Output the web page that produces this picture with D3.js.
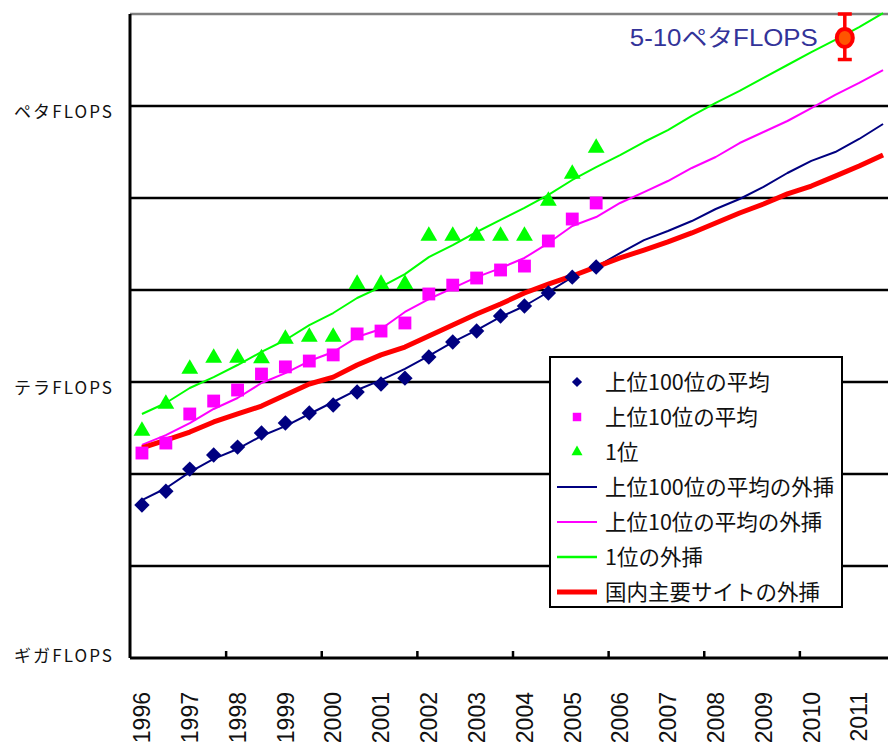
<!DOCTYPE html>
<html>
<head>
<meta charset="utf-8">
<script src="https://cdn.jsdelivr.net/npm/d3@7"></script>
<style>
  body { margin: 0; background: #fff; }
  svg { display: block; }
</style>
</head>
<body>
<div id="chart"></div>
<script>
// half-yearly TOP500 lists (GFLOPS)
const pointYears = [1996, 1996.5, 1997, 1997.5, 1998, 1998.5, 1999, 1999.5, 2000, 2000.5,
  2001, 2001.5, 2002, 2002.5, 2003, 2003.5, 2004, 2004.5, 2005, 2005.5]
const top100Avg = [46, 65, 113, 161, 196, 279, 358, 460, 562, 778,
  951, 1100, 1870, 2720, 3580, 5210, 6700, 9270, 13800, 17800]
const top10Avg = [169, 217, 449, 621, 818, 1220, 1460, 1690, 1970, 3330,
  3580, 4380, 9050, 11300, 13500, 16500, 18200, 34100, 59100, 88300]
const firstPlace = [301, 591, 1420, 1870, 1870, 1850, 3010, 3160, 3160, 11900,
  11900, 11900, 39600, 39600, 39600, 39600, 39600, 95100, 187000, 359000]

// extrapolation lines
const lineYears = [1996, 1996.5, 1997, 1997.5, 1998, 1998.5, 1999, 1999.5, 2000, 2000.5,
  2001, 2001.5, 2002, 2002.5, 2003, 2003.5, 2004, 2004.5, 2005, 2005.5,
  2006, 2006.5, 2007, 2007.5, 2008, 2008.5, 2009, 2009.5, 2010, 2010.5, 2011, 2011.5]
const top100Fit = [52, 70, 105, 146, 187, 259, 332, 449, 606, 819,
  1050, 1390, 1920, 2720, 3670, 5090, 6700, 9510, 13800, 17800,
  25200, 34900, 43800, 56200, 75900, 97500, 132000, 187000, 253000, 316000, 438000, 637000]
const top10Fit = [207, 265, 358, 509, 670, 975, 1250, 1690, 2120, 3080,
  3770, 5770, 7980, 10500, 13800, 17300, 22300, 32400, 49600, 62100,
  88300, 116000, 153000, 212000, 279000, 396000, 522000, 687000, 951000, 1320000, 1780000, 2460000]
const firstFit = [449, 591, 861, 1130, 1530, 2120, 2860, 4160, 5620, 8190,
  10800, 14900, 22800, 30800, 42700, 57700, 77900, 108000, 157000, 217000,
  293000, 406000, 548000, 779000, 1080000, 1460000, 2020000, 2790000, 3860000, 5220000, 7220000, 10200000]
const domesticFit = [192, 234, 286, 368, 449, 548, 722, 951, 1130, 1530,
  1970, 2400, 3160, 4160, 5480, 7050, 9270, 11600, 14200, 17800,
  22300, 27200, 33300, 41700, 53500, 68700, 86000, 111000, 135000, 173000, 223000, 293000]

// target
const targetYear = 2010.7
const targetValue = 5.5e6
const targetRange = [3.2e6, 1e7]
const targetLabel = '5-10ペタFLOPS'

const yearLabels = [1996, 1997, 1998, 1999, 2000, 2001, 2002, 2003,
  2004, 2005, 2006, 2007, 2008, 2009, 2010, 2011]
const tickYears = [1997.75, 1999.75, 2001.75, 2003.75, 2005.75, 2007.75, 2009.75]
const yTickValues = [1, 1e3, 1e6]
const yTickLabels = ['ギガFLOPS', 'テラFLOPS', 'ペタFLOPS']
const gridValues = [10, 100, 1e3, 1e4, 1e5, 1e6]

const width = 888
const height = 747
const margin = { top: 14, right: -7, bottom: 89, left: 130 }

const x = d3.scaleLinear()
  .domain([1995.75, 2011.75])
  .range([margin.left, width - margin.right])

const y = d3.scaleLog()
  .domain([1, 1e7])
  .range([height - margin.bottom, margin.top])

const svg = d3.select('#chart')
  .append('svg')
  .attr('width', width)
  .attr('height', height)
  .attr('viewBox', [0, 0, width, height].join(' '))

// grid
svg.append('g')
  .selectAll('line')
  .data(gridValues)
  .join('line')
  .attr('x1', margin.left)
  .attr('x2', width)
  .attr('y1', d => y(d))
  .attr('y2', d => y(d))
  .attr('stroke', '#000')
  .attr('stroke-width', 2.5)

svg.append('line')
  .attr('x1', margin.left)
  .attr('x2', width)
  .attr('y1', y(1e7))
  .attr('y2', y(1e7))
  .attr('stroke', '#808080')
  .attr('stroke-width', 2.5)

// X axis
const xAxis = g => g
  .attr('transform', `translate(0,${y(1)})`)
  .call(d3.axisBottom(x).tickValues(tickYears).tickSize(-7).tickSizeOuter(0).tickFormat(''))
  .call(g => g.select('.domain').attr('d', `M${margin.left},0H${width}`).attr('stroke-width', 3))
  .call(g => g.selectAll('.tick line').attr('stroke-width', 2.5))

svg.append('g').call(xAxis)

svg.append('g')
  .selectAll('text')
  .data(yearLabels)
  .join('text')
  .attr('transform', d => `translate(${x(d)},692) rotate(-90)`)
  .attr('text-anchor', 'end')
  .attr('dy', '0.36em')
  .attr('font-family', '"Liberation Sans", Arial, sans-serif')
  .attr('font-size', 23)
  .attr('fill', '#111')
  .text(d => d)

// Y axis
const yAxis = g => g
  .attr('transform', `translate(${margin.left},0)`)
  .call(d3.axisLeft(y).tickValues(yTickValues).tickSize(0).tickPadding(18)
    .tickFormat((d, i) => yTickLabels[i]))
  .call(g => g.select('.domain').attr('d', `M0,${y(1e7)}V${y(1)}`).attr('stroke-width', 3))
  .call(g => g.selectAll('.tick text')
    .attr('font-family', '"Noto Sans CJK JP", sans-serif')
    .attr('font-size', 17)
    .attr('fill', '#111')
    .attr('textLength', 98)
    .attr('lengthAdjust', 'spacing')
    .attr('dy', (d, i) => i === 0 ? '0.2em' : '0.7em'))

svg.append('g').call(yAxis)

// lines
const line = d3.line().x(d => x(d[0])).y(d => y(d[1]))
const lineSeries = [
  { values: top100Fit, color: '#000080', width: 2 },
  { values: top10Fit, color: '#ff00ff', width: 2 },
  { values: firstFit, color: '#00ff00', width: 2 },
  { values: domesticFit, color: '#ff0000', width: 5 }
]

svg.append('g')
  .attr('fill', 'none')
  .attr('stroke-linejoin', 'round')
  .selectAll('path')
  .data(lineSeries)
  .join('path')
  .attr('stroke', d => d.color)
  .attr('stroke-width', d => d.width)
  .attr('d', d => line(lineYears.map((yr, i) => [yr, d.values[i]])))

// markers
const markerSeries = [
  { values: top100Avg, color: '#000080', shape: 'diamond' },
  { values: top10Avg, color: '#ff00ff', shape: 'square' },
  { values: firstPlace, color: '#00ff00', shape: 'triangle' }
]

const markerPath = (shape, scale = 1) => {
  if (shape === 'diamond') return d3.symbol(d3.symbolSquare, 118 * scale * scale)()
  if (shape === 'square') return d3.symbol(d3.symbolSquare, 165 * scale * scale)()
  return d3.symbol(d3.symbolTriangle, 122 * scale * scale)()
}

const markers = svg.append('g')
markerSeries.forEach(s => {
  markers.append('g')
    .selectAll('path')
    .data(pointYears.map((yr, i) => [yr, s.values[i]]))
    .join('path')
    .attr('d', markerPath(s.shape))
    .attr('transform', d => `translate(${x(d[0])},${y(d[1]) + (s.shape === 'triangle' ? 1 : 0)})` +
      (s.shape === 'diamond' ? ' rotate(45)' : ''))
    .attr('fill', s.color)
})

// target
const target = svg.append('g')
target.append('text')
  .attr('x', x(targetYear) - 27)
  .attr('y', y(targetValue))
  .attr('dy', '0.36em')
  .attr('text-anchor', 'end')
  .attr('font-family', '"Liberation Sans", "Noto Sans CJK JP", sans-serif')
  .attr('font-size', 23)
  .attr('fill', '#333399')
  .attr('textLength', 188)
  .attr('lengthAdjust', 'spacingAndGlyphs')
  .text(targetLabel)

target.append('line')
  .attr('x1', x(targetYear)).attr('x2', x(targetYear))
  .attr('y1', y(targetRange[0])).attr('y2', y(targetRange[1]))
  .attr('stroke', '#ff0000').attr('stroke-width', 3.5)
target.selectAll('line.cap')
  .data(targetRange)
  .join('line')
  .attr('class', 'cap')
  .attr('x1', x(targetYear) - 7).attr('x2', x(targetYear) + 7)
  .attr('y1', d => y(d)).attr('y2', d => y(d))
  .attr('stroke', '#ff0000').attr('stroke-width', 3.5)
target.append('ellipse')
  .attr('cx', x(targetYear))
  .attr('cy', y(targetValue))
  .attr('rx', 8)
  .attr('ry', 9)
  .attr('fill', '#ff5500')
  .attr('stroke', '#ff0000')
  .attr('stroke-width', 4)

// legend
const legendItems = [
  { label: '上位100位の平均', type: 'marker', shape: 'diamond', color: '#000080' },
  { label: '上位10位の平均', type: 'marker', shape: 'square', color: '#ff00ff' },
  { label: '1位', type: 'marker', shape: 'triangle', color: '#00ff00' },
  { label: '上位100位の平均の外挿', type: 'line', color: '#000080', width: 2 },
  { label: '上位10位の平均の外挿', type: 'line', color: '#ff00ff', width: 2 },
  { label: '1位の外挿', type: 'line', color: '#00ff00', width: 2.5 },
  { label: '国内主要サイトの外挿', type: 'line', color: '#ff0000', width: 5 }
]

const legend = svg.append('g').attr('transform', 'translate(550,357)')
legend.append('rect')
  .attr('width', 292)
  .attr('height', 250)
  .attr('fill', '#fff')
  .attr('stroke', '#000')
  .attr('stroke-width', 2)

const item = legend.selectAll('g.item')
  .data(legendItems)
  .join('g')
  .attr('class', 'item')
  .attr('transform', (d, i) => `translate(0,${25 + i * 35})`)

item.filter(d => d.type === 'marker')
  .append('path')
  .attr('d', d => markerPath(d.shape, 0.66))
  .attr('transform', d => 'translate(27,0)' + (d.shape === 'diamond' ? ' rotate(45)' : ''))
  .attr('fill', d => d.color)

item.filter(d => d.type === 'line')
  .append('line')
  .attr('x1', 7).attr('x2', 47)
  .attr('stroke', d => d.color)
  .attr('stroke-width', d => d.width)

item.append('text')
  .attr('x', 55)
  .attr('dy', '0.36em')
  .attr('font-family', '"Noto Sans CJK JP", sans-serif')
  .attr('font-size', 21.5)
  .attr('fill', '#111')
  .text(d => d.label)
</script>
</body>
</html>
